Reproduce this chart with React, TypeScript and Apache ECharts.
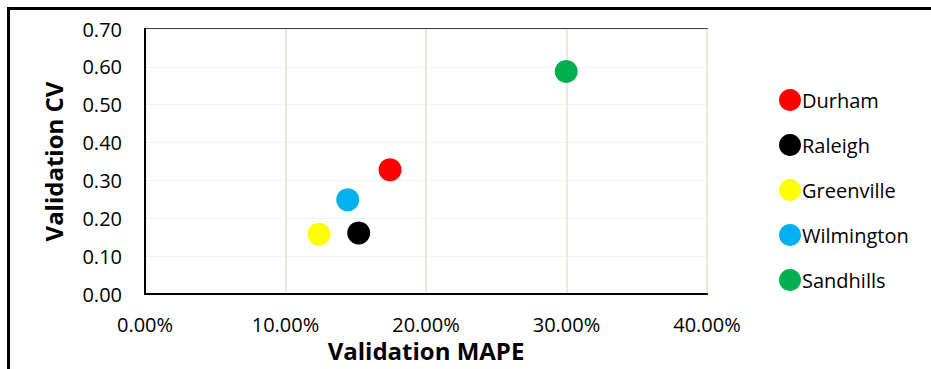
import React, { useEffect, useRef } from "react";
import * as echarts from "echarts";

// Validation results per region
const cities = ["Durham", "Raleigh", "Greenville", "Wilmington", "Sandhills"];
const mape = [0.1744, 0.1521, 0.1238, 0.1443, 0.2998];
const cv = [0.328, 0.161, 0.158, 0.249, 0.588];
const colors = ["#ff0000", "#000000", "#ffff00", "#00b0f0", "#00b050"];

const FONT = "'Open Sans', 'Noto Sans', sans-serif";

export default function App() {
  const ref = useRef<HTMLDivElement>(null);

  useEffect(() => {
    if (!ref.current) return;
    const chart = echarts.init(ref.current, undefined, { renderer: "svg" });

    const series = cities.map((name, i) => ({
      name,
      type: "scatter",
      symbol: "circle",
      symbolSize: 23,
      itemStyle: { color: colors[i], opacity: 1 },
      data: [[mape[i], cv[i]]],
      z: 5,
    }));

    chart.setOption({
      animation: false,
      backgroundColor: "#ffffff",
      textStyle: { fontFamily: FONT },
      grid: {
        left: 145,
        top: 29,
        right: 224,
        bottom: 75,
        containLabel: false,
        outerBoundsMode: "none",
        show: true,
        borderColor: "#000000",
        borderWidth: 1.5,
        backgroundColor: "transparent",
      },
      legend: {
        orient: "vertical",
        left: 779,
        top: 89,
        padding: 0,
        icon: "circle",
        itemWidth: 22,
        itemHeight: 22,
        itemGap: 23,
        textStyle: {
          fontFamily: FONT,
          fontSize: 20,
          color: "#000000",
          padding: [0, 0, 0, -4],
        },
        data: cities,
      },
      xAxis: {
        type: "value",
        min: 0,
        max: 0.4,
        interval: 0.1,
        name: "Validation MAPE",
        nameLocation: "middle",
        nameGap: 43,
        nameTextStyle: {
          fontFamily: FONT,
          fontSize: 24,
          lineHeight: 24,
          fontWeight: "bold",
          color: "#000000",
        },
        axisLine: { show: true, onZero: false, lineStyle: { color: "#000000", width: 2 } },
        axisTick: { show: false },
        axisLabel: {
          fontFamily: FONT,
          fontSize: 20,
          lineHeight: 20,
          color: "#000000",
          margin: 20,
          formatter: (v: number) => (v * 100).toFixed(2) + "%",
        },
        splitLine: { show: true, lineStyle: { color: "#ece8db", width: 2 } },
      },
      yAxis: {
        type: "value",
        min: 0,
        max: 0.7,
        interval: 0.1,
        name: "Validation CV",
        nameLocation: "middle",
        nameGap: 80,
        nameTextStyle: {
          fontFamily: FONT,
          fontSize: 24,
          fontWeight: "bold",
          color: "#000000",
        },
        axisLine: { show: true, onZero: false, lineStyle: { color: "#000000", width: 2 } },
        axisTick: { show: false },
        axisLabel: {
          fontFamily: FONT,
          fontSize: 20,
          color: "#000000",
          margin: 23,
          formatter: (v: number) => v.toFixed(2),
        },
        splitLine: { show: true, lineStyle: { color: "#f4f2ec", width: 1 } },
      },
      graphic: [
        {
          type: "polyline",
          shape: { points: [[8.5, 369], [8.5, 8.5], [931, 8.5]] },
          style: { stroke: "#000000", lineWidth: 3, fill: "none" },
          silent: true,
        },
      ],
      series,
    });

    return () => chart.dispose();
  }, []);

  return (
    <div
      ref={ref}
      style={{ position: "absolute", left: 0, top: 0, width: 931, height: 369 }}
    />
  );
}
